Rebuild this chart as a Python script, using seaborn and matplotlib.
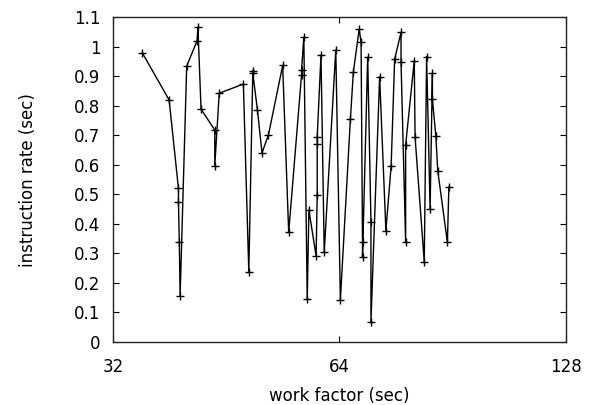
import matplotlib
matplotlib.use("Agg")
import matplotlib.pyplot as plt
from matplotlib.ticker import FixedLocator, NullLocator, FixedFormatter
import seaborn as sns
import pandas as pd

# values (order follows the drawn line)
work_factor = [35.0, 38.0, 39.1, 39.1, 39.2, 39.3, 40.1, 41.4, 41.5, 41.9,
               43.7, 43.7, 44.3, 47.7, 48.5, 49.1, 49.1, 49.8, 50.5, 51.5,
               53.8, 54.8, 57.0, 57.0, 57.4, 58.0, 58.3, 59.6, 59.8, 59.8,
               59.8, 60.5, 61.1, 63.3, 64.2, 66.2, 66.8, 68.0, 68.4, 68.7,
               68.7, 69.8, 70.5, 70.5, 72.4, 73.8, 75.0, 75.8, 77.3, 77.3,
               78.4, 78.4, 80.5, 80.7, 83.0, 83.6, 84.5, 85.1, 85.1, 86.0,
               86.5, 89.1, 89.5]
instr_rate = [0.98, 0.82, 0.52, 0.473, 0.337, 0.156, 0.935, 1.021, 1.067, 0.789,
              0.718, 0.597, 0.843, 0.874, 0.238, 0.919, 0.91, 0.786, 0.641, 0.701,
              0.937, 0.371, 0.905, 0.922, 1.033, 0.145, 0.447, 0.291, 0.498, 0.671,
              0.694, 0.973, 0.303, 0.99, 0.142, 0.756, 0.914, 1.06, 1.015, 0.339,
              0.286, 0.965, 0.407, 0.068, 0.899, 0.377, 0.597, 0.958, 1.049, 0.95,
              0.339, 0.667, 0.953, 0.694, 0.271, 0.967, 0.45, 0.911, 0.822, 0.699,
              0.58, 0.337, 0.526]

x_ticks = [32, 64, 128]
y_ticks = [0, 0.1, 0.2, 0.3, 0.4, 0.5, 0.6, 0.7, 0.8, 0.9, 1.0, 1.1]
y_tick_labels = ["0", "0.1", "0.2", "0.3", "0.4", "0.5", "0.6", "0.7", "0.8", "0.9", "1", "1.1"]

df = pd.DataFrame({"work factor (sec)": work_factor, "instruction rate (sec)": instr_rate})

sns.set_style("ticks")
plt.rcParams['font.family'] = ['DejaVu Sans']
plt.rcParams['text.color'] = 'black'
plt.rcParams['axes.labelcolor'] = 'black'

fig = plt.figure(figsize=(5.98, 4.05), dpi=100)
ax = fig.add_axes([0.189, 0.156, 0.757, 0.801])

sns.lineplot(data=df, x="work factor (sec)", y="instruction rate (sec)", sort=False,
             estimator=None, color="black", linewidth=1.0, marker="+",
             markersize=6, markeredgewidth=1.0, markeredgecolor="black", ax=ax)

ax.set_xscale("log", base=2)
ax.set_xlim(32, 128)
ax.set_ylim(0, 1.1)
ax.xaxis.set_major_locator(FixedLocator(x_ticks))
ax.xaxis.set_major_formatter(FixedFormatter([str(t) for t in x_ticks]))
ax.xaxis.set_minor_locator(NullLocator())
ax.set_yticks(y_ticks)
ax.set_yticklabels(y_tick_labels)

ax.tick_params(direction="in", length=4, width=0.8, colors="black", labelcolor="black",
               labelsize=12, top=True, right=True)
ax.tick_params(axis="x", pad=12)
ax.tick_params(axis="y", pad=9)
for s in ax.spines.values():
    s.set_linewidth(1.0)
    s.set_color("#222222")

ax.set_xlabel("work factor (sec)", fontsize=12, color="black")
ax.set_ylabel("instruction rate (sec)", fontsize=12, color="black")
ax.xaxis.set_label_coords(0.5, -0.14)
ax.yaxis.set_label_coords(-0.168, 0.5)

fig.savefig("out.png", dpi=100)
